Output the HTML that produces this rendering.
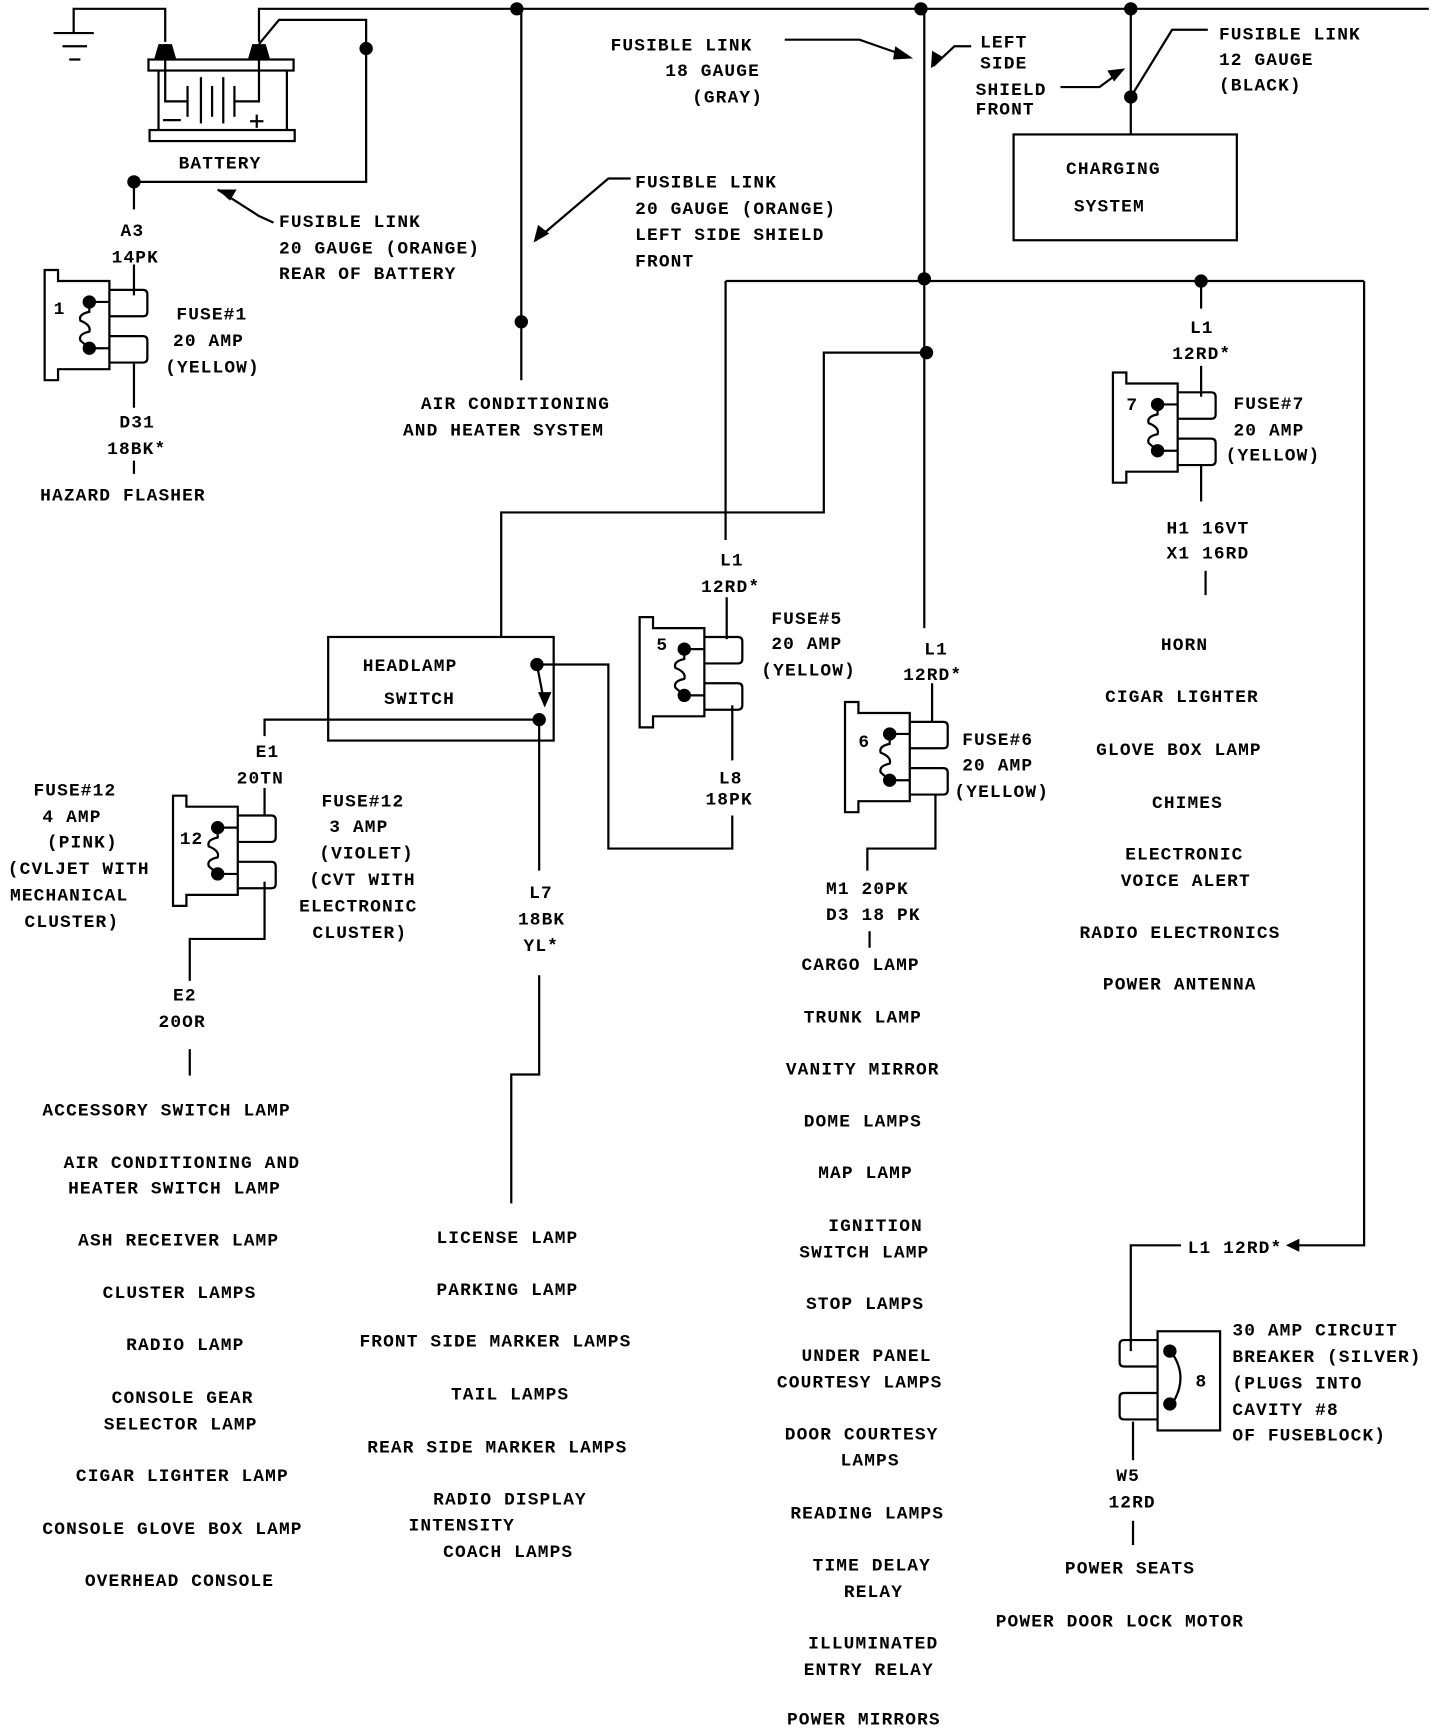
<!DOCTYPE html>
<html><head><meta charset="utf-8"><style>
html,body{margin:0;padding:0;background:#fff;}
svg{display:block}
text{font-family:"Liberation Mono",monospace;font-weight:bold;font-size:16px;fill:#000;letter-spacing:1px}
</style></head><body>
<svg width="1440" height="1728" viewBox="0 0 1290 1568" preserveAspectRatio="none" xmlns="http://www.w3.org/2000/svg">
<defs>
<g id="fuse" fill="none" stroke="#000" stroke-width="2">
<path d="M0,0 H12 V10 H58 V90 H12 V100 H0 Z"/>
<path d="M58,18 H88 Q92,18 92,22 V38 Q92,42 88,42 H58"/>
<path d="M58,60 H88 Q92,60 92,64 V80 Q92,84 88,84 H58"/>
<line x1="40" y1="29" x2="58" y2="29"/><line x1="40" y1="71" x2="58" y2="71"/>
<path d="M40,29 V38 Q30,40 32,46 Q42,50 40,56 Q30,58 32,64 L40,71"/>
<circle cx="40" cy="29" r="5" fill="#000"/><circle cx="40" cy="71" r="5" fill="#000"/>
</g>
</defs>
<g fill="none" stroke="#000" stroke-width="2">
<path d="M66,30 V8 H148 V38"/>
<path d="M232,38 V8 H1280"/>
<path d="M232,40 L250,18 H328 V165 H120 V190"/>
<line x1="48" y1="30" x2="84" y2="30"/><line x1="56" y1="42" x2="78" y2="42"/><line x1="62" y1="54" x2="72" y2="54"/>
<rect x="133" y="54" width="130" height="10"/>
<rect x="134" y="118" width="130" height="10"/>
<line x1="142" y1="64" x2="142" y2="118"/><line x1="257" y1="64" x2="257" y2="118"/>
<path d="M148,40 V92 H168"/><path d="M232,40 V92 H210"/>
<line x1="168" y1="78" x2="168" y2="106"/><line x1="180" y1="70" x2="180" y2="112"/><line x1="190" y1="78" x2="190" y2="106"/><line x1="200" y1="70" x2="200" y2="112"/><line x1="210" y1="78" x2="210" y2="106"/>
<line x1="146" y1="109" x2="162" y2="109"/><line x1="224" y1="110" x2="236" y2="110"/><line x1="230" y1="104" x2="230" y2="116"/>
<line x1="120" y1="240" x2="120" y2="268"/><line x1="120" y1="330" x2="120" y2="370"/>
<line x1="120" y1="418" x2="120" y2="430"/>
<path d="M245,202 L232,196 L195,172"/>
<path d="M565,162 H545 L480,218"/>
<path d="M703,36 H770 L815,52"/>
<path d="M870,42 H855 L836,60"/>
<path d="M950,79 H985 L1005,64"/>
<path d="M1082,27 H1050 L1013,88"/>
<line x1="467" y1="8" x2="467" y2="345"/>
<line x1="828" y1="8" x2="828" y2="570"/>
<line x1="650" y1="255" x2="1222" y2="255"/>
<line x1="650" y1="255" x2="650" y2="490"/>
<path d="M1222,255 V1130 H1160"/>
<line x1="1076" y1="255" x2="1076" y2="280"/>
<line x1="1076" y1="332" x2="1076" y2="360"/>
<line x1="1076" y1="422" x2="1076" y2="455"/>
<line x1="1080" y1="518" x2="1080" y2="540"/>
<path d="M830,320 H738 V465 H449 V578"/>
<line x1="1013" y1="8" x2="1013" y2="122"/>
<rect x="908" y="122" width="200" height="96"/>
<rect x="294" y="578" width="202" height="94"/>
<path d="M481,603 H545 V770 H656 V740"/>
<path d="M481,603 L488,640"/>
<path d="M483,653 H237 V668"/>
<line x1="483" y1="653" x2="483" y2="790"/>
<path d="M483,885 V975 H458 V1092"/>
<line x1="651" y1="542" x2="651" y2="580"/>
<line x1="656" y1="640" x2="656" y2="690"/>
<line x1="835" y1="620" x2="835" y2="655"/>
<path d="M838,720 V770 H777 V790"/>
<line x1="779" y1="845" x2="779" y2="860"/>
<line x1="237" y1="715" x2="237" y2="740"/>
<path d="M237,800 V852 H170 V890"/>
<line x1="170" y1="952" x2="170" y2="976"/>
<path d="M1058,1130 H1013 V1226"/>
<line x1="1015" y1="1290" x2="1015" y2="1325"/>
<line x1="1015" y1="1380" x2="1015" y2="1402"/>
<rect x="1037" y="1208" width="56" height="90"/>
<path d="M1037,1216 H1007 Q1003,1216 1003,1220 V1236 Q1003,1240 1007,1240 H1037"/>
<path d="M1037,1264 H1007 Q1003,1264 1003,1268 V1284 Q1003,1288 1007,1288 H1037"/>
<path d="M1050,1228 Q1065,1250 1050,1274"/>
</g>
<g fill="#000">
<path d="M142,40 L154,40 L158,54 L138,54 Z"/><path d="M226,40 L238,40 L242,54 L222,54 Z"/>
<circle cx="328" cy="44" r="6"/><circle cx="120" cy="165" r="6"/>
<circle cx="463" cy="8" r="6"/><circle cx="825" cy="8" r="6"/><circle cx="1013" cy="8" r="6"/>
<circle cx="467" cy="292" r="6"/><circle cx="828" cy="253" r="6"/><circle cx="830" cy="320" r="6"/>
<circle cx="1076" cy="255" r="6"/><circle cx="1013" cy="88" r="6"/>
<circle cx="481" cy="603" r="6"/><circle cx="483" cy="653" r="6"/>
<circle cx="1048" cy="1226" r="6"/><circle cx="1048" cy="1274" r="6"/>
<path d="M195,172 L212,172 L206,182 Z"/>
<path d="M478,220 L482,204 L492,212 Z"/>
<path d="M818,53 L802,42 L800,54 Z"/>
<path d="M834,62 L835,46 L845,52 Z"/>
<path d="M1008,62 L992,64 L998,74 Z"/>
<path d="M1152,1130 L1164,1124 L1164,1136 Z"/>
<path d="M488,642 L482,628 L494,628 Z"/>
</g>
<use href="#fuse" x="40" y="245"/>
<use href="#fuse" x="573" y="560"/>
<use href="#fuse" x="757" y="637"/>
<use href="#fuse" x="997" y="338"/>
<use href="#fuse" x="155" y="722"/>
<text x="48" y="285" font-size="13">1</text>
<text x="588" y="590" font-size="13">5</text>
<text x="769" y="678" font-size="13">6</text>
<text x="1009" y="372" font-size="13">7</text>
<text x="161" y="766" font-size="13">12</text>
<text x="1071" y="1258" font-size="13">8</text>

<text x="160" y="153">BATTERY</text>
<text x="108" y="214">A3</text>
<text x="100" y="238">14PK</text>
<text x="250" y="206">FUSIBLE LINK</text>
<text x="250" y="230">20 GAUGE (ORANGE)</text>
<text x="250" y="253">REAR OF BATTERY</text>
<text x="158" y="290">FUSE#1</text>
<text x="155" y="314">20 AMP</text>
<text x="148" y="338">(YELLOW)</text>
<text x="107" y="388">D31</text>
<text x="96" y="412">18BK*</text>
<text x="36" y="454">HAZARD FLASHER</text>
<text x="377" y="371">AIR CONDITIONING</text>
<text x="361" y="395">AND HEATER SYSTEM</text>
<text x="569" y="170">FUSIBLE LINK</text>
<text x="569" y="194">20 GAUGE (ORANGE)</text>
<text x="569" y="218">LEFT SIDE SHIELD</text>
<text x="569" y="242">FRONT</text>
<text x="547" y="46">FUSIBLE LINK</text>
<text x="596" y="69">18 GAUGE</text>
<text x="620" y="93">(GRAY)</text>
<text x="878" y="43">LEFT</text>
<text x="878" y="62">SIDE</text>
<text x="874" y="86">SHIELD</text>
<text x="874" y="104">FRONT</text>
<text x="1092" y="36">FUSIBLE LINK</text>
<text x="1092" y="59">12 GAUGE</text>
<text x="1092" y="82">(BLACK)</text>
<text x="955" y="158">CHARGING</text>
<text x="962" y="192">SYSTEM</text>
<text x="1066" y="302">L1</text>
<text x="1050" y="326">12RD*</text>
<text x="1105" y="371">FUSE#7</text>
<text x="1105" y="395">20 AMP</text>
<text x="1098" y="418">(YELLOW)</text>
<text x="1045" y="484">H1 16VT</text>
<text x="1045" y="507">X1 16RD</text>
<text x="1040" y="590">HORN</text>
<text x="990" y="637">CIGAR LIGHTER</text>
<text x="982" y="685">GLOVE BOX LAMP</text>
<text x="1032" y="733">CHIMES</text>
<text x="1008" y="780">ELECTRONIC</text>
<text x="1004" y="804">VOICE ALERT</text>
<text x="967" y="851">RADIO ELECTRONICS</text>
<text x="988" y="898">POWER ANTENNA</text>
<text x="645" y="513">L1</text>
<text x="628" y="537">12RD*</text>
<text x="691" y="566">FUSE#5</text>
<text x="691" y="589">20 AMP</text>
<text x="682" y="613">(YELLOW)</text>
<text x="644" y="711">L8</text>
<text x="632" y="730">18PK</text>
<text x="828" y="594">L1</text>
<text x="809" y="617">12RD*</text>
<text x="862" y="676">FUSE#6</text>
<text x="862" y="699">20 AMP</text>
<text x="855" y="723">(YELLOW)</text>
<text x="740" y="811">M1 20PK</text>
<text x="740" y="835">D3 18 PK</text>
<text x="718" y="880">CARGO LAMP</text>
<text x="720" y="928">TRUNK LAMP</text>
<text x="704" y="975">VANITY MIRROR</text>
<text x="720" y="1022">DOME LAMPS</text>
<text x="733" y="1069">MAP LAMP</text>
<text x="742" y="1117">IGNITION</text>
<text x="716" y="1141">SWITCH LAMP</text>
<text x="722" y="1188">STOP LAMPS</text>
<text x="718" y="1235">UNDER PANEL</text>
<text x="696" y="1259">COURTESY LAMPS</text>
<text x="703" y="1306">DOOR COURTESY</text>
<text x="753" y="1330">LAMPS</text>
<text x="708" y="1378">READING LAMPS</text>
<text x="728" y="1425">TIME DELAY</text>
<text x="756" y="1449">RELAY</text>
<text x="724" y="1496">ILLUMINATED</text>
<text x="720" y="1520">ENTRY RELAY</text>
<text x="705" y="1565">POWER MIRRORS</text>
<text x="325" y="609">HEADLAMP</text>
<text x="344" y="639">SWITCH</text>
<text x="229" y="687">E1</text>
<text x="212" y="711">20TN</text>
<text x="30" y="722">FUSE#12</text>
<text x="38" y="746">4 AMP</text>
<text x="42" y="769">(PINK)</text>
<text x="7" y="793">(CVLJET WITH</text>
<text x="9" y="817">MECHANICAL</text>
<text x="22" y="841">CLUSTER)</text>
<text x="288" y="732">FUSE#12</text>
<text x="295" y="755">3 AMP</text>
<text x="286" y="779">(VIOLET)</text>
<text x="277" y="803">(CVT WITH</text>
<text x="268" y="827">ELECTRONIC</text>
<text x="280" y="851">CLUSTER)</text>
<text x="474" y="815">L7</text>
<text x="464" y="839">18BK</text>
<text x="469" y="863">YL*</text>
<text x="155" y="908">E2</text>
<text x="142" y="932">20OR</text>
<text x="38" y="1012">ACCESSORY SWITCH LAMP</text>
<text x="57" y="1060">AIR CONDITIONING AND</text>
<text x="61" y="1083">HEATER SWITCH LAMP</text>
<text x="70" y="1130">ASH RECEIVER LAMP</text>
<text x="92" y="1178">CLUSTER LAMPS</text>
<text x="113" y="1225">RADIO LAMP</text>
<text x="100" y="1273">CONSOLE GEAR</text>
<text x="93" y="1297">SELECTOR LAMP</text>
<text x="68" y="1344">CIGAR LIGHTER LAMP</text>
<text x="38" y="1392">CONSOLE GLOVE BOX LAMP</text>
<text x="76" y="1439">OVERHEAD CONSOLE</text>
<text x="391" y="1128">LICENSE LAMP</text>
<text x="391" y="1175">PARKING LAMP</text>
<text x="322" y="1222">FRONT SIDE MARKER LAMPS</text>
<text x="404" y="1270">TAIL LAMPS</text>
<text x="329" y="1318">REAR SIDE MARKER LAMPS</text>
<text x="388" y="1365">RADIO DISPLAY</text>
<text x="366" y="1389">INTENSITY</text>
<text x="397" y="1413">COACH LAMPS</text>
<text x="1064" y="1137">L1 12RD*</text>
<text x="1104" y="1212">30 AMP CIRCUIT</text>
<text x="1104" y="1236">BREAKER (SILVER)</text>
<text x="1104" y="1260">(PLUGS INTO</text>
<text x="1104" y="1284">CAVITY #8</text>
<text x="1104" y="1307">OF FUSEBLOCK)</text>
<text x="1000" y="1344">W5</text>
<text x="993" y="1368">12RD</text>
<text x="954" y="1428">POWER SEATS</text>
<text x="892" y="1476">POWER DOOR LOCK MOTOR</text>
</svg>
</body></html>
